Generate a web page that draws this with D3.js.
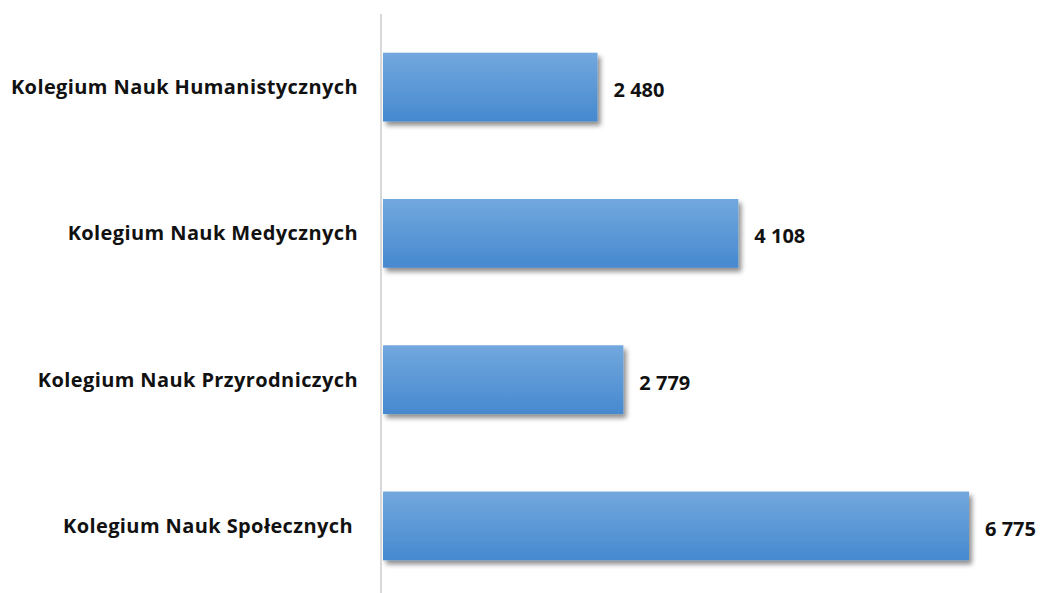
<!DOCTYPE html>
<html>
<head>
<meta charset="utf-8">
<script src="https://cdn.jsdelivr.net/npm/d3@7"></script>
<style>
  html, body { margin: 0; padding: 0; background: #fff; }
  svg { display: block; }
  text { font-family: "Open Sans", "Noto Sans", sans-serif; font-weight: bold; fill: #111; }
</style>
</head>
<body>
<div id="chart"></div>
<script>
// dane
var categories = ["Kolegium Nauk Humanistycznych", "Kolegium Nauk Medycznych", "Kolegium Nauk Przyrodniczych", "Kolegium Nauk Społecznych"];
var values = [2480, 4108, 2779, 6775];

var width = 1041, height = 593;
var axisX = 381;

var svg = d3.select("#chart").append("svg")
    .attr("width", width)
    .attr("height", height);

var defs = svg.append("defs");
var grad = defs.append("linearGradient")
    .attr("id", "barGrad")
    .attr("x1", 0).attr("y1", 0).attr("x2", 0).attr("y2", 1);
grad.append("stop").attr("offset", "0%").attr("stop-color", "#72a8de");
grad.append("stop").attr("offset", "100%").attr("stop-color", "#4689cf");

var shadow = defs.append("filter")
    .attr("id", "shadow")
    .attr("x", "-5%").attr("y", "-20%").attr("width", "115%").attr("height", "150%");
shadow.append("feGaussianBlur").attr("in", "SourceAlpha").attr("stdDeviation", 2.5);
shadow.append("feOffset").attr("dx", 3).attr("dy", 4).attr("result", "blur");
shadow.append("feComponentTransfer").append("feFuncA").attr("type", "linear").attr("slope", 0.45);
var merge = shadow.append("feMerge");
merge.append("feMergeNode");
merge.append("feMergeNode").attr("in", "SourceGraphic");

var x = d3.scaleLinear()
    .domain([0, d3.max(values)])
    .range([axisX + 2, 969]);

var y = d3.scaleBand()
    .domain(categories)
    .range([17, 596])
    .paddingInner(0.53)
    .paddingOuter(0.244);

var fmt = d3.formatLocale({decimal: ",", thousands: " ", grouping: [3], currency: ["", " zł"]}).format(",d");

var data = categories.map(function(c, i) { return {cat: c, value: values[i]}; });

svg.selectAll("rect.bar")
    .data(data)
    .enter().append("rect")
    .attr("class", "bar")
    .attr("x", x(0))
    .attr("y", function(d) { return y(d.cat); })
    .attr("width", function(d) { return x(d.value) - x(0); })
    .attr("height", y.bandwidth())
    .attr("fill", "url(#barGrad)")
    .attr("filter", "url(#shadow)");

// oś pionowa
svg.append("line")
    .attr("x1", axisX).attr("x2", axisX)
    .attr("y1", 14).attr("y2", height)
    .attr("stroke", "#d9d9d9")
    .attr("stroke-width", 2);

// etykiety kategorii
svg.selectAll("text.cat")
    .data(data)
    .enter().append("text")
    .attr("class", "cat")
    .attr("x", function(d, i) { return i === 3 ? 353 : 358; })
    .attr("y", function(d) { return y(d.cat) + y.bandwidth() / 2; })
    .attr("dy", "0.35em")
    .attr("text-anchor", "end")
    .style("font-size", "20px")
    .style("letter-spacing", "0.4px")
    .text(function(d) { return d.cat; });

// wartości
svg.selectAll("text.val")
    .data(data)
    .enter().append("text")
    .attr("class", "val")
    .attr("x", function(d) { return x(d.value) + 16; })
    .attr("y", function(d) { return y(d.cat) + y.bandwidth() / 2 + 3; })
    .attr("dy", "0.35em")
    .style("font-size", "20px")
    .text(function(d) { return fmt(d.value); });
</script>
</body>
</html>
